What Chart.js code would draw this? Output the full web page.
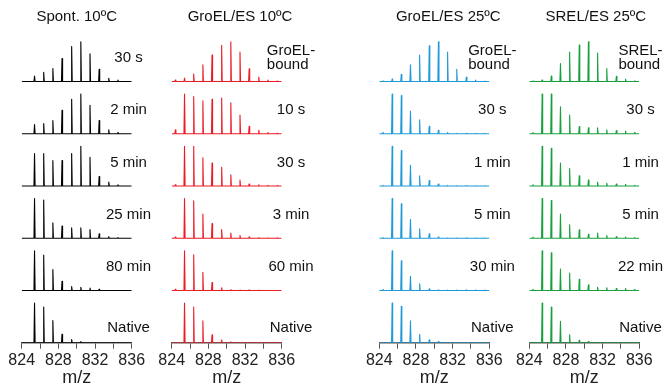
<!DOCTYPE html>
<html>
<head>
<meta charset="utf-8">
<script src="https://cdn.jsdelivr.net/npm/chart.js@4.4.1/dist/chart.umd.min.js"></script>
<style>
	body { margin: 0; background: #fff; overflow: hidden; width: 663px; height: 390px; position: relative; }
	canvas { position: absolute; top: 0; }
</style>
</head>
<body>
<canvas id="c1" width="185" height="390" style="left:0px"></canvas>
<canvas id="c2" width="185" height="390" style="left:140px"></canvas>
<canvas id="c3" width="185" height="390" style="left:350px"></canvas>
<canvas id="c4" width="185" height="390" style="left:500px"></canvas>
<script>
"use strict"

// peak centres (m/z), shared by every spectrum
const mzPeaks = [824.4, 825.4, 826.4, 827.4, 828.4, 829.45, 830.45, 831.45, 832.45, 833.5, 834.5, 835.5]

// relative peak heights (tallest = 100), rows top to bottom
const spontLabels = ["30 s", "2 min", "5 min", "25 min", "80 min", "Native"]
const spontRows = [
	[0, 14, 23, 33, 58, 88, 100, 70, 31, 8, 4, 0],
	[0, 23, 26, 33, 59, 87, 100, 72, 33, 10, 4, 0],
	[0, 82, 82, 64, 64, 82, 100, 72, 24, 10, 3, 0],
	[0, 100, 96, 39, 31, 26, 26, 22, 11, 4, 2, 0],
	[0, 100, 89, 53, 23, 10, 8, 6, 3, 0, 0, 0],
	[0, 100, 90, 56, 21, 8, 3, 0, 0, 0, 0, 0],
]

const groel10Labels = ["GroEL-\nbound", "10 s", "30 s", "3 min", "60 min", "Native"]
const groel10Rows = [
	[4, 9, 19, 42, 67, 91, 100, 74, 32, 11, 4, 1],
	[10, 100, 94, 83, 87, 90, 78, 47, 19, 9, 3, 1],
	[3, 100, 100, 71, 58, 47, 28, 15, 5, 3, 2, 1],
	[3, 100, 94, 61, 37, 22, 13, 7, 3, 2, 1, 1],
	[3, 100, 90, 46, 20, 7, 2, 1, 1, 1, 0, 0],
	[0, 100, 90, 55, 20, 7, 2, 0, 0, 0, 0, 0],
]

const groel25Labels = ["GroEL-\nbound", "30 s", "1 min", "5 min", "30 min", "Native"]
const groel25Rows = [
	[2, 6, 18, 42, 67, 90, 100, 74, 31, 11, 4, 1],
	[4, 100, 96, 57, 35, 19, 9, 3, 1, 1, 1, 1],
	[2, 100, 89, 52, 26, 14, 5, 2, 1, 1, 1, 1],
	[2, 100, 87, 48, 24, 11, 3, 1, 1, 1, 1, 1],
	[3, 100, 75, 36, 17, 4, 1, 1, 1, 1, 1, 1],
	[0, 100, 92, 55, 21, 7, 3, 0, 0, 0, 0, 0],
]

const srel25Labels = ["SREL-\nbound", "30 s", "1 min", "5 min", "22 min", "Native"]
const srel25Rows = [
	[2, 4, 14, 45, 74, 92, 100, 72, 33, 13, 6, 2],
	[3, 100, 100, 68, 47, 18, 15, 15, 10, 8, 7, 4],
	[3, 100, 95, 58, 44, 26, 15, 10, 7, 5, 4, 2],
	[3, 100, 95, 61, 34, 21, 10, 13, 7, 4, 3, 2],
	[3, 100, 95, 54, 44, 28, 14, 8, 7, 5, 5, 3],
	[0, 100, 90, 54, 20, 6, 3, 0, 0, 0, 0, 0],
]

const FONT = "'Liberation Sans', Arial, sans-serif"
Chart.defaults.font.family = FONT

const peakScale = 0.76
const halfWidth = 0.06

function trace(values, row) {
	let base = 5 - row
	let pts = [{ x: 824, y: base }]
	mzPeaks.forEach((m, i) => {
		if (!values[i]) return
		pts.push({ x: m - halfWidth, y: base }, { x: m, y: base + values[i] / 100 * peakScale }, { x: m + halfWidth, y: base })
	})
	pts.push({ x: 836, y: base })
	return pts
}

const panelText = {
	id: "panelText",
	afterDraw(chart, args, opts) {
		let { ctx, chartArea, scales } = chart
		ctx.save()
		ctx.fillStyle = "#111"
		ctx.font = "15px " + FONT
		ctx.textAlign = "center"
		ctx.textBaseline = "alphabetic"
		ctx.fillText(opts.title, (chartArea.left + chartArea.right) / 2 + opts.titleDx, 20.7)
		let cx = scales.x.getPixelForValue(836) + opts.labelDx
		opts.rowLabels.forEach((label, r) => {
			let base = scales.y.getPixelForValue(5 - r)
			let lines = label.split("\n")
			if (lines.length > 1) {
				let w = Math.max(...lines.map((l) => ctx.measureText(l).width))
				ctx.textAlign = "left"
				lines.forEach((l, i) => ctx.fillText(l, cx - w / 2, base - 13 - (lines.length - 1 - i) * 13.3))
				ctx.textAlign = "center"
			} else {
				ctx.fillText(label, cx, base - (label === "Native" ? 11 : 19.5))
			}
		})
		ctx.restore()
	},
}

function makePanel(id, rows, labels, title, color, padLeft, titleDx, labelDx) {
	return new Chart(document.getElementById(id), {
		type: "line",
		data: {
			datasets: rows.map((v, r) => ({
				data: trace(v, r),
				borderColor: color,
				borderWidth: 1.1,
				borderJoinStyle: "round",
				pointRadius: 0,
				tension: 0,
				fill: false,
			})),
		},
		options: {
			responsive: false,
			animation: false,
			layout: {
				autoPadding: false,
				padding: { left: padLeft, right: 185 - padLeft - 110, top: 29.3, bottom: 0 },
			},
			plugins: {
				legend: { display: false },
				tooltip: { enabled: false },
				panelText: { title: title, titleDx: titleDx, rowLabels: labels, labelDx: labelDx },
			},
			scales: {
				x: {
					type: "linear",
					min: 824,
					max: 836,
					afterFit: (scale) => {
						scale.height = 47.3
					},
					ticks: {
						stepSize: 2,
						autoSkip: false,
						maxRotation: 0,
						padding: 4,
						color: "#222",
						font: { size: 16, lineHeight: 1 },
						callback: (v) => (v % 4 === 0 ? String(v) : ""),
					},
					grid: { drawOnChartArea: false, tickLength: 6, color: "#555", tickColor: "#555" },
					border: { color: "#555", width: 1.4 },
					title: { display: true, text: "m/z", color: "#222", font: { size: 18, lineHeight: 1 }, padding: 3 },
				},
				y: { display: false, min: 0, max: 6 },
			},
		},
		plugins: [panelText],
	})
}

makePanel("c1", spontRows, spontLabels, "Spont. 10ºC", "#000000", 21.7, 0, -3.2)
makePanel("c2", groel10Rows, groel10Labels, "GroEL/ES 10ºC", "#ec1c24", 31.7, 13.3, 9.3)
makePanel("c3", groel25Rows, groel25Labels, "GroEL/ES 25ºC", "#1e9ad8", 29.3, 14, 3)
makePanel("c4", srel25Rows, srel25Labels, "SREL/ES 25ºC", "#17a03e", 29.3, 11.5, 1.2)
</script>
</body>
</html>
